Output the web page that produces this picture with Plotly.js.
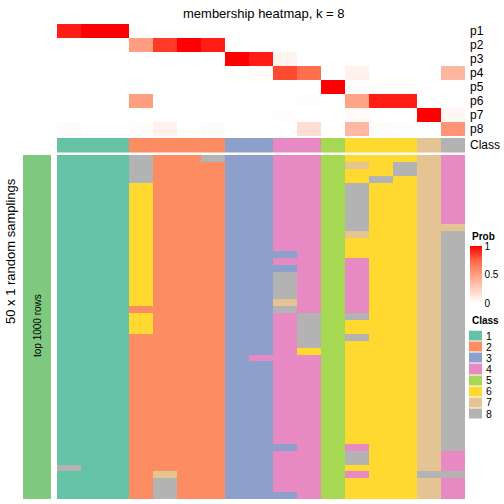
<!DOCTYPE html>
<html><head><meta charset="utf-8">
<script src="https://cdn.plot.ly/plotly-3.0.1.min.js"></script>
<style>html,body{margin:0;padding:0;background:#fff}#chart{width:504px;height:504px}</style>
</head><body><div id="chart"></div>
<script>
// ---- data ----
const samples = ['S1','S2','S3','S4','S5','S6','S7','S8','S9','S10','S11','S12','S13','S14','S15','S16','S17'];
const probRows = ['p1','p2','p3','p4','p5','p6','p7','p8'];
const p1 = [0.93,1,1,0,0,0,0,0,0,0,0,0,0,0,0,0,0];
const p2 = [0,0,0,0.5,0.86,1,0.93,0,0,0,0,0,0,0,0,0,0];
const p3 = [0,0,0,0,0,0,0,1,0.93,0.06,0,0,0,0,0,0,0];
const p4 = [0,0,0,0,0,0,0,0,0.01,0.82,0.72,0,0.07,0,0,0,0.38];
const p5 = [0,0,0,0,0,0,0,0,0,0,0,1,0,0,0,0,0];
const p6 = [0,0,0,0.5,0,0,0,0,0,0,0.01,0,0.48,0.93,0.93,0,0];
const p7 = [0,0,0,0,0,0,0,0,0,0.01,0,0,0.03,0,0,1,0.04];
const p8 = [0.02,0,0,0.01,0.07,0,0.02,0,0,0,0.17,0,0.37,0.02,0.01,0,0.55];
const classOfSample = [1,1,1,2,2,2,2,3,3,4,4,5,6,6,6,7,8];
const classLabels = ['1','2','3','4','5','6','7','8'];
const classColors = ['#66C2A5','#FC8D62','#8DA0CB','#E78AC3','#A6D854','#FFD92F','#E5C494','#B3B3B3'];
// 50 random samplings (rows) x 17 samples, each digit = class
const samplings = [
'11182283344566674','11182223344576874','11182223344566874','11182223344568674',
'11162223344586674','11162223344586674','11162223344586674','11162223344586674',
'11162223344586674','11162223344586674','11162223344586677','11162223344576678',
'11162223344566678','11162223344566678','11162223334566678','11162223344546678',
'11162223334546678','11162223384546678','11162223384546678','11162223384546678',
'11162223384546678','11162223374546678','11122223384546678','11162223348586678',
'11162223348566678','11162223348566678','11122223348586678','11122223348566678',
'11122223346566678','11122223444566678','11122223344566678','11122223344566678',
'11122223344566678','11122223344566678','11122223344566678','11122223344566678',
'11122223344566678','11122223344566678','11122223344566678','11122223344566678',
'11122223344566678','11122223344566678','11122223334546678','11122223344586674',
'11122223344586674','81122223344566674','11127223344546688','11128223344566674',
'11128223344566674','11128223334566674'
];
const groupLabel = 'top 1000 rows';
const groupColor = '#7FC97F';
const titleText = 'membership heatmap, k = 8';
const sideText = '50 x 1 random samplings';
const probTicks = [0, 0.5, 1];
const probTickText = ['0', '0.5', '1'];

// ---- build ----
const H = 504;
const py = v => 1 - v / H;
const FONT = 'Liberation Sans, Arial, Helvetica, sans-serif';
const rowIdx = samplings.map((_, i) => i);
const mainZ = samplings.map(s => s.split('').map(Number));

const discrete = [];
classColors.forEach((c, k) => { discrete.push([k / 8, c]); discrete.push([(k + 1) / 8, c]); });
const probScale = [[0,'#FFFFFF'],[0.25,'#FFCFBE'],[0.5,'#FF9E81'],[0.75,'#FF6746'],[1,'#FF0000']];

const traces = [
  { type:'heatmap', x:samples, y:probRows, z:[p1,p2,p3,p4,p5,p6,p7,p8], xaxis:'x', yaxis:'y',
    zmin:0, zmax:1, colorscale:probScale, hoverinfo:'skip',
    colorbar:{ x:470/504, xanchor:'left', xref:'paper', y:py(246), yanchor:'top', yref:'paper',
      len:57, lenmode:'pixels', thickness:12, thicknessmode:'pixels', xpad:0, ypad:0,
      outlinewidth:0, tickvals:probTicks, ticktext:probTickText, ticks:'',
      tickfont:{size:10, family:FONT, color:'#000'} } },
  { type:'heatmap', x:samples, y:['Class'], z:[classOfSample], xaxis:'x', yaxis:'y2',
    zmin:0.5, zmax:8.5, colorscale:discrete, showscale:false, hoverinfo:'skip' },
  { type:'heatmap', x:samples, y:rowIdx, z:mainZ, xaxis:'x', yaxis:'y3',
    zmin:0.5, zmax:8.5, colorscale:discrete, showscale:false, hoverinfo:'skip' },
  { type:'heatmap', x:[groupLabel], y:rowIdx, z:rowIdx.map(() => [1]), xaxis:'x2', yaxis:'y3',
    zmin:0, zmax:1, colorscale:[[0,groupColor],[1,groupColor]], showscale:false, hoverinfo:'skip' },
  { type:'heatmap', x:['c'], y:classLabels, z:classLabels.map(l => [Number(l)]), xaxis:'x3', yaxis:'y5',
    zmin:0.5, zmax:8.5, colorscale:discrete, showscale:false, ygap:1, hoverinfo:'skip' }
];

const hidden = { showgrid:false, zeroline:false, showticklabels:false, ticks:'', showline:false };
const layout = {
  width:504, height:504, margin:{l:0,r:0,t:0,b:0}, paper_bgcolor:'#fff', plot_bgcolor:'#fff',
  font:{family:FONT, color:'#000'}, showlegend:false,
  xaxis: Object.assign({domain:[57/504,465/504], anchor:'y3', range:[-0.5,16.5]}, hidden),
  yaxis: { domain:[py(136), py(24)], anchor:'x', autorange:'reversed', side:'right', ticks:'',
           tickmode:'array', tickvals:probRows, ticktext:probRows,
           showgrid:false, zeroline:false, tickfont:{size:12, family:FONT}, ticklabelstandoff:4 },
  yaxis2: { domain:[py(152.5), py(138)], anchor:'x', side:'right', ticks:'', showgrid:false,
           tickmode:'array', tickvals:['Class'], ticktext:['Class'],
           zeroline:false, tickfont:{size:12, family:FONT}, ticklabelstandoff:4 },
  yaxis3: Object.assign({domain:[py(499), py(155)], anchor:'x', range:[49.5,-0.5]}, hidden),
  xaxis2: Object.assign({domain:[23/504,51/504], anchor:'y3'}, hidden),
  xaxis3: Object.assign({domain:[469/504,482/504], anchor:'y5'}, hidden),
  yaxis5: { domain:[py(419.5), py(330.5)], anchor:'x3', autorange:'reversed', side:'right', ticks:'',
           tickmode:'array', tickvals:classLabels, ticktext:classLabels,
           showgrid:false, zeroline:false, tickfont:{size:10.5, family:FONT}, ticklabelstandoff:3 },
  annotations: [
    { text:titleText, x:264/504, y:py(13), xref:'paper', yref:'paper', showarrow:false,
      xanchor:'center', yanchor:'middle', font:{size:13, family:FONT} },
    { text:'<b>Prob</b>', x:470/504, y:py(236), xref:'paper', yref:'paper', showarrow:false,
      xanchor:'left', yanchor:'middle', font:{size:10, family:FONT} },
    { text:'<b>Class</b>', x:470/504, y:py(320), xref:'paper', yref:'paper', showarrow:false,
      xanchor:'left', yanchor:'middle', font:{size:10, family:FONT} },
    { text:sideText, x:10/504, y:py(251), xref:'paper', yref:'paper', showarrow:false,
      xanchor:'center', yanchor:'middle', textangle:-90, font:{size:13, family:FONT} },
    { text:groupLabel, x:37/504, y:py(326), xref:'paper', yref:'paper', showarrow:false,
      xanchor:'center', yanchor:'middle', textangle:-90, font:{size:10, family:FONT} }
  ]
};
Plotly.newPlot('chart', traces, layout, {staticPlot:true, displayModeBar:false});
</script>
</body></html>
